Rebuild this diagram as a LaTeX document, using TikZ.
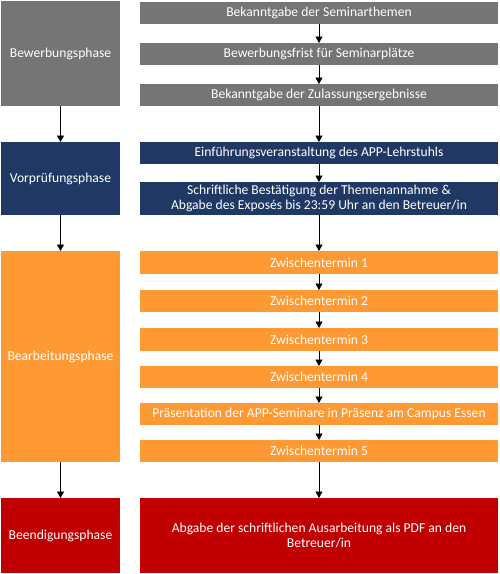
\documentclass[tikz,border=0pt]{standalone}
\usepackage{fontspec}
\setmainfont{Carlito}
\usetikzlibrary{arrows.meta}
\definecolor{cgray}{HTML}{757575}
\definecolor{cnavy}{HTML}{203864}
\definecolor{corange}{HTML}{FF9933}
\definecolor{cred}{HTML}{C00000}
\tikzset{
  box/.style={rectangle, inner sep=0pt, outer sep=0pt, text=white, align=center,
    font=\fontsize{13.6}{15.5}\selectfont},
  lbox/.style={box, minimum width=119pt},
  rbox/.style={box, minimum width=358pt},
  conn/.style={line width=0.9pt, -{Triangle[width=7pt,length=6.5pt]}}
}
\begin{document}
\begin{tikzpicture}[x=1pt,y=-1pt]
\useasboundingbox (0,0) rectangle (499,574);
% left phases
\node[lbox, fill=cgray, minimum height=105pt] (L1) at (60.5,53.5) {Bewerbungsphase};
\node[lbox, fill=cnavy, minimum height=73pt] (L2) at (60.5,178.5) {Vorprüfungsphase};
\node[lbox, fill=corange, minimum height=211pt] (L3) at (60.5,356.5) {Bearbeitungsphase};
\node[lbox, fill=cred, minimum height=75pt] (L4) at (60.5,535.5) {Beendigungsphase};
% right steps
\node[rbox, fill=cgray, minimum height=22pt] (R1) at (319,13) {Bekanntgabe der Seminarthemen};
\node[rbox, fill=cgray, minimum height=22pt] (R2) at (319,54) {Bewerbungsfrist für Seminarplätze};
\node[rbox, fill=cgray, minimum height=22pt] (R3) at (319,95) {Bekanntgabe der Zulassungsergebnisse};
\node[rbox, fill=cnavy, minimum height=22pt] (R4) at (319,153) {Einführungsveranstaltung des APP-Lehrstuhls};
\node[rbox, fill=cnavy, minimum height=33pt] (R5) at (319,198.5) {Schriftliche Bestätigung der Themenannahme \&\\Abgabe des Exposés bis 23:59 Uhr an den Betreuer/in};
\node[rbox, fill=corange, minimum height=23pt] (R6) at (319,262.5) {Zwischentermin 1};
\node[rbox, fill=corange, minimum height=22pt] (R7) at (319,301) {Zwischentermin 2};
\node[rbox, fill=corange, minimum height=23pt] (R8) at (319,339.5) {Zwischentermin 3};
\node[rbox, fill=corange, minimum height=22pt] (R9) at (319,377) {Zwischentermin 4};
\node[rbox, fill=corange, minimum height=22pt] (R10) at (319,414) {Präsentation der APP-Seminare in Präsenz am Campus Essen};
\node[rbox, fill=corange, minimum height=22pt] (R11) at (319,451) {Zwischentermin 5};
\node[rbox, fill=cred, minimum height=75pt] (R12) at (319,535.5) {Abgabe der schriftlichen Ausarbeitung als PDF an den\\Betreuer/in};
% connectors
\foreach \a/\b in {L1/L2,L2/L3,L3/L4,R1/R2,R2/R3,R3/R4,R4/R5,R5/R6,R6/R7,R7/R8,R8/R9,R9/R10,R10/R11,R11/R12}
  \draw[conn] (\a.south) -- (\b.north);
\end{tikzpicture}
\end{document}
